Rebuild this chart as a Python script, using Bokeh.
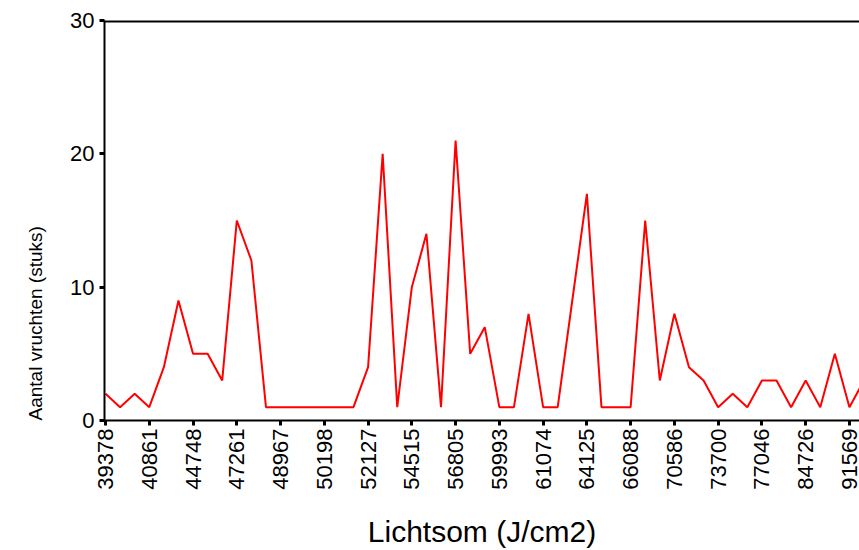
from math import pi
from bokeh.plotting import figure
from bokeh.models import Range1d, FixedTicker, Span, ColumnDataSource, Title
from bokeh.embed import file_html
from bokeh.resources import INLINE

# Categories (light sum, J/cm2) – only every third category is labelled
tick_labels = ["39378", "40861", "44748", "47261", "48967", "50198", "52127",
               "54515", "56805", "59993", "61074", "64125", "66088", "70586",
               "73700", "77046", "84726", "91569"]
tick_step = 3

# Number of fruits (stuks) per category position
counts = [2, 1, 2, 1, 4, 9, 5, 5, 3, 15, 12, 1, 1, 1, 1, 1, 1, 1, 4, 20,
          1, 10, 14, 1, 21, 5, 7, 1, 1, 8, 1, 1, 9, 17, 1, 1, 1, 15, 3, 8,
          4, 3, 1, 2, 1, 3, 3, 1, 3, 1, 5, 1, 3]

y_ticks = [0, 10, 20, 30]

x_title = "Lichtsom (J/cm2)"
y_title = "Aantal vruchten (stuks)"

positions = list(range(len(counts)))
src = ColumnDataSource(data=dict(x=positions, y=counts))

FONT = "Liberation Sans"

p = figure(width=859, height=550, output_backend="svg", toolbar_location=None,
           x_range=Range1d(-0.07, 51.69), y_range=Range1d(0, 30),
           min_border_left=104, min_border_top=20, min_border_right=0,
           min_border_bottom=128)

p.line("x", "y", source=src, line_color="#ff0000", line_width=2)

p.xgrid.visible = False
p.ygrid.visible = False
p.outline_line_color = None
p.background_fill_color = "white"
p.border_fill_color = "white"

# top border line
p.add_layout(Span(location=30, dimension="width", line_color="black", line_width=4))

# x axis
tick_pos = [i * tick_step for i in range(len(tick_labels))]
p.xaxis.ticker = FixedTicker(ticks=tick_pos)
p.xaxis.major_label_overrides = {tp: lab for tp, lab in zip(tick_pos, tick_labels)}
p.xaxis.major_label_orientation = pi / 2
p.xaxis.major_label_text_font = FONT
p.xaxis.major_label_text_font_size = "22px"
p.xaxis.major_label_text_color = "black"
p.xaxis.major_label_standoff = 3
p.xaxis.major_tick_in = 0
p.xaxis.major_tick_out = 5
p.xaxis.major_tick_line_width = 3
p.xaxis.minor_tick_line_color = None
p.xaxis.axis_line_width = 2
p.xaxis.axis_line_color = "black"
p.xaxis.axis_label = x_title
p.xaxis.axis_label_text_font = FONT
p.xaxis.axis_label_text_font_size = "30px"
p.xaxis.axis_label_text_font_style = "normal"
p.xaxis.axis_label_text_color = "black"
p.xaxis.axis_label_standoff = 22

# y axis
p.yaxis.ticker = FixedTicker(ticks=y_ticks)
p.yaxis.major_label_text_font = FONT
p.yaxis.major_label_text_font_size = "22px"
p.yaxis.major_label_text_color = "black"
p.yaxis.major_label_standoff = 5
p.yaxis.major_tick_in = 0
p.yaxis.major_tick_out = 5
p.yaxis.major_tick_line_width = 3
p.yaxis.minor_tick_line_color = None
p.yaxis.axis_line_width = 2
p.yaxis.axis_line_color = "black"

# y title, placed low along the axis (as in the original)
p.add_layout(Title(text=y_title, align="left", text_font=FONT,
                   text_font_size="19px", text_font_style="normal",
                   text_color="black", offset=0, standoff=44), "left")

open("out.html", "w").write(file_html(p, INLINE))
